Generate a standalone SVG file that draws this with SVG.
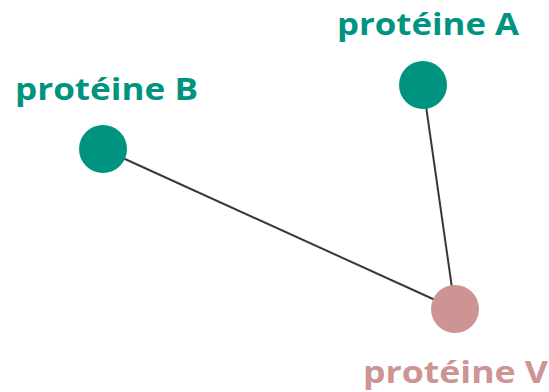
<svg xmlns="http://www.w3.org/2000/svg" width="549" height="392" viewBox="0 0 549 392">
  <style>
    .edge { stroke: #383838; stroke-width: 2; fill: none; }
    .teal { fill: #00937F; }
    .pink { fill: #CC9493; }
    .label { font-family: "Open Sans", "Liberation Sans", sans-serif; font-weight: 700; font-size: 31px; }
  </style>
  <rect width="549" height="392" fill="#ffffff"/>
  <g id="connectors">
    <line class="edge" x1="103" y1="149" x2="455" y2="309"/>
    <line class="edge" x1="423" y1="85" x2="455" y2="309"/>
  </g>
  <g id="proteine-A">
    <circle class="teal" cx="423" cy="85" r="24"/>
    <text class="label teal" x="337" y="35" textLength="182" lengthAdjust="spacingAndGlyphs">protéine A</text>
  </g>
  <g id="proteine-B">
    <circle class="teal" cx="103" cy="149" r="24"/>
    <text class="label teal" x="15" y="100" textLength="183" lengthAdjust="spacingAndGlyphs">protéine B</text>
  </g>
  <g id="proteine-V">
    <circle class="pink" cx="455" cy="309" r="24"/>
    <text class="label pink" x="363" y="383" font-size="32" textLength="185" lengthAdjust="spacingAndGlyphs">protéine V</text>
  </g>
</svg>
